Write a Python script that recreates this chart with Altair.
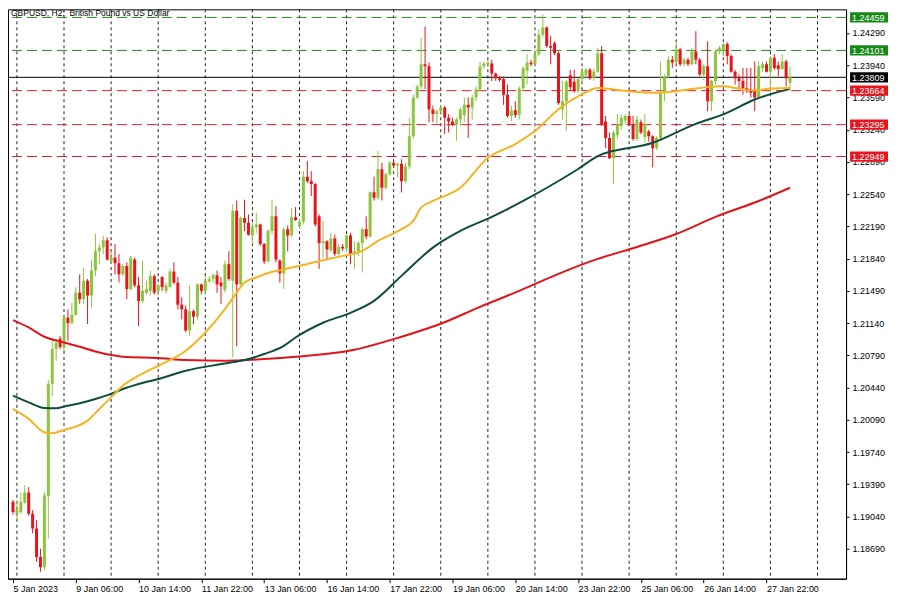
import altair as alt
import pandas as pd

# ---------------- data (GBPUSD H2 candles) ----------------
opens = [
1.1920, 1.1907, 1.1909, 1.1919, 1.1930, 1.1907, 1.1891, 1.1860, 1.1849, 1.1926,
1.2048, 1.2086, 1.2097, 1.2088, 1.2120, 1.2114, 1.2123, 1.2147, 1.2140, 1.2160,
1.2144, 1.2171, 1.2192, 1.2196, 1.2204, 1.2181, 1.2185, 1.2179, 1.2167, 1.2176,
1.2151, 1.2183, 1.2155, 1.2138, 1.2147, 1.2149, 1.2165, 1.2149, 1.2164, 1.2149,
1.2153, 1.2170, 1.2158, 1.2134, 1.2129, 1.2106, 1.2127, 1.2121, 1.2156, 1.2149,
1.2159, 1.2162, 1.2166, 1.2158, 1.2150, 1.2178, 1.2160, 1.2236, 1.2156, 1.2228,
1.2223, 1.2209, 1.2218, 1.2221, 1.2200, 1.2181, 1.2214, 1.2230, 1.2182, 1.2168,
1.2216, 1.2209, 1.2229, 1.2219, 1.2224, 1.2273, 1.2268, 1.2265, 1.2230, 1.2201,
1.2203, 1.2193, 1.2206, 1.2189, 1.2197, 1.2195, 1.2209, 1.2189, 1.2192, 1.2201,
1.2216, 1.2208, 1.2256, 1.2250, 1.2281, 1.2261, 1.2276, 1.2288, 1.2285, 1.2287,
1.2268, 1.2284, 1.2317, 1.2359, 1.2371, 1.2395, 1.2393, 1.2346, 1.2341, 1.2344,
1.2348, 1.2337, 1.2333, 1.2330, 1.2335, 1.2340, 1.2351, 1.2348, 1.2359, 1.2368,
1.2393, 1.2395, 1.2396, 1.2385, 1.2380, 1.2379, 1.2362, 1.2339, 1.2345, 1.2340,
1.2369, 1.2388, 1.2397, 1.2395, 1.2406, 1.2427, 1.2435, 1.2415, 1.2418, 1.2407,
1.2346, 1.2355, 1.2383, 1.2376, 1.2366, 1.2379, 1.2383, 1.2389, 1.2380, 1.2387,
1.2407, 1.2333, 1.2315, 1.2293, 1.2318, 1.2328, 1.2334, 1.2339, 1.2330, 1.2314,
1.2332, 1.2316, 1.2322, 1.2317, 1.2304, 1.2315, 1.2364, 1.2382, 1.2400, 1.2397,
1.2411, 1.2395, 1.2400, 1.2395, 1.2409, 1.2400, 1.2384, 1.2393, 1.2355, 1.2377,
1.2409, 1.2410, 1.2417, 1.2404, 1.2387, 1.2380, 1.2377, 1.2369, 1.2368, 1.2366,
1.2359, 1.2391, 1.2395, 1.2387, 1.2402, 1.2394, 1.2390, 1.2398, 1.2375]

highs = [
1.1922, 1.1921, 1.1930, 1.1938, 1.1936, 1.1911, 1.1900, 1.1869, 1.1930, 1.2052,
1.2095, 1.2097, 1.2100, 1.2122, 1.2129, 1.2136, 1.2153, 1.2167, 1.2174, 1.2162,
1.2183, 1.2211, 1.2200, 1.2209, 1.2207, 1.2192, 1.2200, 1.2189, 1.2178, 1.2180,
1.2187, 1.2185, 1.2164, 1.2182, 1.2160, 1.2171, 1.2167, 1.2157, 1.2165, 1.2158,
1.2173, 1.2180, 1.2164, 1.2142, 1.2133, 1.2155, 1.2129, 1.2157, 1.2157, 1.2165,
1.2165, 1.2168, 1.2171, 1.2164, 1.2182, 1.2192, 1.2243, 1.2247, 1.2230, 1.2248,
1.2232, 1.2223, 1.2234, 1.2222, 1.2201, 1.2216, 1.2248, 1.2241, 1.2183, 1.2218,
1.2220, 1.2239, 1.2240, 1.2227, 1.2279, 1.2290, 1.2279, 1.2266, 1.2232, 1.2225,
1.2204, 1.2212, 1.2210, 1.2200, 1.2200, 1.2210, 1.2212, 1.2203, 1.2203, 1.2218,
1.2230, 1.2257, 1.2273, 1.2301, 1.2288, 1.2277, 1.2290, 1.2290, 1.2288, 1.2292,
1.2288, 1.2337, 1.2362, 1.2373, 1.2424, 1.2436, 1.2397, 1.2350, 1.2346, 1.2350,
1.2350, 1.2341, 1.2337, 1.2337, 1.2348, 1.2359, 1.2359, 1.2362, 1.2371, 1.2398,
1.2398, 1.2399, 1.2400, 1.2386, 1.2382, 1.2382, 1.2373, 1.2350, 1.2355, 1.2371,
1.2393, 1.2406, 1.2400, 1.2411, 1.2433, 1.2449, 1.2436, 1.2426, 1.2420, 1.2409,
1.2377, 1.2378, 1.2389, 1.2389, 1.2380, 1.2391, 1.2391, 1.2391, 1.2390, 1.2413,
1.2415, 1.2339, 1.2321, 1.2323, 1.2341, 1.2341, 1.2341, 1.2341, 1.2339, 1.2339,
1.2335, 1.2341, 1.2324, 1.2318, 1.2317, 1.2398, 1.2384, 1.2404, 1.2404, 1.2420,
1.2413, 1.2402, 1.2402, 1.2413, 1.2431, 1.2402, 1.2395, 1.2420, 1.2378, 1.2411,
1.2415, 1.2418, 1.2419, 1.2406, 1.2389, 1.2384, 1.2391, 1.2391, 1.2391, 1.2398,
1.2398, 1.2398, 1.2398, 1.2404, 1.2406, 1.2398, 1.2406, 1.2400, 1.2393]

lows = [
1.1906, 1.1900, 1.1907, 1.1918, 1.1905, 1.1886, 1.1855, 1.1844, 1.1846, 1.1880,
1.2035, 1.2073, 1.2086, 1.2084, 1.2095, 1.2113, 1.2122, 1.2135, 1.2135, 1.2113,
1.2131, 1.2165, 1.2178, 1.2189, 1.2182, 1.2178, 1.2167, 1.2158, 1.2165, 1.2140,
1.2149, 1.2153, 1.2111, 1.2136, 1.2145, 1.2144, 1.2145, 1.2144, 1.2149, 1.2146,
1.2153, 1.2156, 1.2129, 1.2118, 1.2104, 1.2100, 1.2113, 1.2118, 1.2145, 1.2145,
1.2158, 1.2158, 1.2147, 1.2135, 1.2147, 1.2160, 1.2077, 1.2089, 1.2155, 1.2214,
1.2209, 1.2200, 1.2212, 1.2198, 1.2178, 1.2180, 1.2210, 1.2180, 1.2158, 1.2151,
1.2192, 1.2207, 1.2225, 1.2216, 1.2221, 1.2266, 1.2252, 1.2219, 1.2173, 1.2185,
1.2182, 1.2191, 1.2187, 1.2187, 1.2192, 1.2191, 1.2178, 1.2173, 1.2187, 1.2169,
1.2205, 1.2207, 1.2247, 1.2248, 1.2247, 1.2259, 1.2274, 1.2283, 1.2272, 1.2256,
1.2266, 1.2281, 1.2314, 1.2357, 1.2368, 1.2368, 1.2332, 1.2332, 1.2330, 1.2342,
1.2319, 1.2321, 1.2328, 1.2312, 1.2328, 1.2332, 1.2315, 1.2335, 1.2355, 1.2366,
1.2390, 1.2392, 1.2377, 1.2377, 1.2376, 1.2351, 1.2337, 1.2333, 1.2337, 1.2335,
1.2366, 1.2373, 1.2393, 1.2394, 1.2404, 1.2424, 1.2413, 1.2395, 1.2405, 1.2351,
1.2335, 1.2323, 1.2366, 1.2364, 1.2364, 1.2375, 1.2380, 1.2378, 1.2377, 1.2386,
1.2328, 1.2304, 1.2292, 1.2265, 1.2314, 1.2324, 1.2330, 1.2328, 1.2312, 1.2312,
1.2319, 1.2310, 1.2311, 1.2283, 1.2302, 1.2312, 1.2355, 1.2380, 1.2391, 1.2395,
1.2393, 1.2393, 1.2393, 1.2394, 1.2395, 1.2382, 1.2378, 1.2344, 1.2344, 1.2373,
1.2406, 1.2404, 1.2395, 1.2386, 1.2373, 1.2368, 1.2362, 1.2364, 1.2359, 1.2344,
1.2357, 1.2387, 1.2386, 1.2362, 1.2389, 1.2382, 1.2389, 1.2371, 1.2368]

closes = [
1.1909, 1.1911, 1.1920, 1.1930, 1.1907, 1.1891, 1.1860, 1.1849, 1.1927, 1.2048,
1.2086, 1.2093, 1.2088, 1.2120, 1.2114, 1.2123, 1.2147, 1.2140, 1.2160, 1.2144,
1.2171, 1.2192, 1.2196, 1.2204, 1.2183, 1.2185, 1.2179, 1.2167, 1.2176, 1.2151,
1.2185, 1.2155, 1.2138, 1.2149, 1.2151, 1.2165, 1.2147, 1.2155, 1.2153, 1.2155,
1.2170, 1.2158, 1.2134, 1.2129, 1.2106, 1.2127, 1.2121, 1.2156, 1.2149, 1.2160,
1.2162, 1.2166, 1.2156, 1.2154, 1.2178, 1.2162, 1.2236, 1.2156, 1.2228, 1.2223,
1.2210, 1.2218, 1.2221, 1.2200, 1.2181, 1.2214, 1.2230, 1.2183, 1.2168, 1.2216,
1.2209, 1.2229, 1.2226, 1.2224, 1.2273, 1.2268, 1.2265, 1.2221, 1.2201, 1.2203,
1.2194, 1.2206, 1.2189, 1.2197, 1.2195, 1.2209, 1.2189, 1.2192, 1.2201, 1.2216,
1.2208, 1.2256, 1.2250, 1.2281, 1.2261, 1.2276, 1.2288, 1.2285, 1.2287, 1.2268,
1.2284, 1.2317, 1.2359, 1.2371, 1.2395, 1.2393, 1.2346, 1.2341, 1.2344, 1.2348,
1.2337, 1.2333, 1.2330, 1.2335, 1.2346, 1.2351, 1.2348, 1.2359, 1.2368, 1.2393,
1.2396, 1.2397, 1.2385, 1.2380, 1.2378, 1.2362, 1.2339, 1.2345, 1.2340, 1.2369,
1.2391, 1.2397, 1.2395, 1.2406, 1.2427, 1.2435, 1.2415, 1.2413, 1.2407, 1.2353,
1.2355, 1.2376, 1.2370, 1.2366, 1.2379, 1.2387, 1.2389, 1.2380, 1.2387, 1.2407,
1.2330, 1.2315, 1.2293, 1.2321, 1.2330, 1.2337, 1.2339, 1.2330, 1.2314, 1.2335,
1.2321, 1.2330, 1.2317, 1.2304, 1.2315, 1.2364, 1.2382, 1.2400, 1.2397, 1.2411,
1.2395, 1.2400, 1.2395, 1.2409, 1.2400, 1.2384, 1.2393, 1.2355, 1.2377, 1.2409,
1.2413, 1.2417, 1.2404, 1.2387, 1.2380, 1.2377, 1.2369, 1.2366, 1.2364, 1.2359,
1.2393, 1.2395, 1.2387, 1.2402, 1.2391, 1.2390, 1.2398, 1.2380, 1.23809]

# moving averages (bar index, price)
ma_fast_idx = [0, 4, 8, 10, 13, 16, 19, 22, 25, 28, 32, 37, 44, 49, 54, 57, 59, 62, 64, 68, 72,
               79, 84, 89, 93, 99, 102, 104, 107, 114, 121, 128, 133, 139, 145, 149, 153, 157,
               164, 174, 181, 184, 189, 193, 198]
ma_fast = [1.20208, 1.20100, 1.19954, 1.19944, 1.19980, 1.20016, 1.20081, 1.20208, 1.20334,
           1.20461, 1.20569, 1.20677, 1.20840, 1.21038, 1.21292, 1.21472, 1.21580, 1.21635,
           1.21671, 1.21715, 1.21751, 1.21823, 1.21870, 1.21924, 1.22032, 1.22160, 1.22250,
           1.22393, 1.22466, 1.22610, 1.22935, 1.23084, 1.23225, 1.23463, 1.23626, 1.23694,
           1.23677, 1.23658, 1.23640, 1.23688, 1.23713, 1.23694, 1.23666, 1.23688, 1.23694]

ma_mid_idx = [0, 4, 8, 11, 13, 17, 21, 25, 28, 32, 37, 44, 54, 59, 64, 69, 72, 79, 86, 92, 99,
              107, 114, 122, 130, 139, 144, 149, 163, 174, 181, 189, 198]
ma_mid = [1.20352, 1.20280, 1.20219, 1.20215, 1.20233, 1.20269, 1.20316, 1.20371, 1.20425,
          1.20479, 1.20533, 1.20623, 1.20702, 1.20739, 1.20804, 1.20894, 1.20984, 1.21144,
          1.21252, 1.21382, 1.21653, 1.21960, 1.22141, 1.22293, 1.22466, 1.22683, 1.22813,
          1.22954, 1.23098, 1.23304, 1.23406, 1.23568, 1.23683]

ma_slow_idx = [0, 4, 8, 13, 17, 21, 25, 28, 37, 44, 54, 64, 72, 87, 99, 109, 119, 129, 139,
               149, 159, 169, 179, 190, 198]
ma_slow = [1.21173, 1.21093, 1.20992, 1.20930, 1.20883, 1.20832, 1.20793, 1.20775, 1.20761,
           1.20739, 1.20732, 1.20750, 1.20775, 1.20851, 1.20992, 1.21133, 1.21317, 1.21490,
           1.21675, 1.21837, 1.21967, 1.22108, 1.22293, 1.22466, 1.22610]

levels_green = [1.24459, 1.24101]
levels_red = [1.23664, 1.23295, 1.22949]
bid_level = [1.23809]

y_ticks = [1.18690, 1.19040, 1.19390, 1.19740, 1.20090, 1.20440, 1.20790, 1.21140, 1.21490,
           1.21840, 1.22190, 1.22540, 1.22890, 1.23240, 1.23590, 1.23940, 1.24290]
tick_idx = [0, 16, 32, 48, 64, 80, 96, 112, 128, 144, 160, 176, 192]
tick_labels = ["5 Jan 2023", "9 Jan 06:00", "10 Jan 14:00", "11 Jan 22:00", "13 Jan 06:00",
               "16 Jan 14:00", "17 Jan 22:00", "19 Jan 06:00", "20 Jan 14:00", "23 Jan 22:00",
               "25 Jan 06:00", "26 Jan 14:00", "27 Jan 22:00"]
day_grid_idx = [1, 13, 25, 37, 49, 61, 73, 85, 97, 109, 121, 133, 145, 157, 169, 181, 193, 205]
chart_title = "GBPUSD, H2:\u00a0 British Pound vs US Dollar"

# ---------------- styling ----------------
W, H = 839, 570
FONT = "Liberation Sans"
UP, DOWN = "#8CC63F", "#E8141C"
C_FAST, C_MID, C_SLOW = "#F5B324", "#0E4D3C", "#E0141B"
LINE_G, LINE_R = "#1F8A1F", "#D9202A"
BOX_G, BOX_R = "#168A16", "#E8141C"

n = len(opens)
assert len(highs) == n and len(lows) == n and len(closes) == n
candles = pd.DataFrame({"idx": list(range(n)), "open": opens, "high": highs,
                        "low": lows, "close": closes})
candles["dir"] = ["up" if c >= o else "down" for o, c in zip(opens, closes)]

xscale = alt.Scale(domain=[0, 211], nice=False, zero=False)
yscale = alt.Scale(domain=[1.18365, 1.24547], nice=False, zero=False)

labels_js = "[" + ",".join("'" + s + "'" for s in tick_labels) + "]"
idx_js = "[" + ",".join(str(v) for v in tick_idx) + "]"
x_axis = alt.Axis(values=tick_idx, labelExpr=f"{labels_js}[indexof({idx_js}, datum.value)]",
                  labelAlign="left", labelFlush=False, labelOverlap=False, labelBound=False,
                  labelFont=FONT, labelFontSize=9, labelColor="black", tickColor="black",
                  tickSize=4, domainColor="black", grid=False, labelPadding=2, title=None)
y_axis = alt.Axis(orient="right", values=y_ticks, format=".5f", labelFont=FONT,
                  labelFontSize=9, labelColor="black", tickColor="black", tickSize=3,
                  domainColor="black", grid=False, labelPadding=3, labelFlush=False,
                  labelOverlap=False, title=None)


def X(field):
    return alt.X(f"{field}:Q", scale=xscale, axis=x_axis)


def Y(field):
    return alt.Y(f"{field}:Q", scale=yscale, axis=y_axis)


grid = alt.Chart(pd.DataFrame({"idx": day_grid_idx})).mark_rule(
    color="#222222", strokeDash=[3, 3], strokeWidth=1, clip=True).encode(x=X("idx"))


def level_rules(levels, color, dash):
    kw = dict(color=color, strokeWidth=1, clip=True)
    if dash:
        kw["strokeDash"] = [10, 5]
    return alt.Chart(pd.DataFrame({"level": levels})).mark_rule(**kw).encode(y=Y("level"))


lines_g = level_rules(levels_green, LINE_G, True)
lines_r = level_rules(levels_red, LINE_R, True)
line_bid = level_rules(bid_level, "black", False)

dir_color = alt.Color("dir:N", scale=alt.Scale(domain=["up", "down"], range=[UP, DOWN]),
                      legend=None)
wicks = alt.Chart(candles).mark_rule(strokeWidth=1, clip=True).encode(
    x=X("idx"), y=Y("low"), y2="high:Q", color=dir_color)
bodies = alt.Chart(candles).mark_bar(width=3, clip=True).encode(
    x=X("idx"), y=Y("open"), y2="close:Q", color=dir_color)


def ma_line(idx, vals, color):
    return alt.Chart(pd.DataFrame({"idx": idx, "ma": vals})).mark_line(
        color=color, strokeWidth=2, interpolate="monotone", clip=True).encode(
        x=X("idx"), y=Y("ma"))


ma_s = ma_line(ma_slow_idx, ma_slow, C_SLOW)
ma_m = ma_line(ma_mid_idx, ma_mid, C_MID)
ma_f = ma_line(ma_fast_idx, ma_fast, C_FAST)

BOX_PATH = "M-1,-0.27L1,-0.27L1,0.27L-1,0.27Z"


def price_tags(levels, fill):
    d = pd.DataFrame({"level": levels, "txt": [f"{v:.5f}" for v in levels]})
    box = alt.Chart(d).mark_point(shape=BOX_PATH, size=38 * 38, filled=True, opacity=1,
                                  color=fill, strokeWidth=0).encode(
        x=alt.value(W + 23), y=Y("level"))
    txt = alt.Chart(d).mark_text(align="left", baseline="middle", font=FONT, fontSize=9,
                                 color="white", dy=0.5).encode(
        x=alt.value(W + 6), y=Y("level"), text="txt:N")
    return [box, txt]


tags = price_tags(levels_green, BOX_G) + price_tags(levels_red, BOX_R) + \
    price_tags(bid_level, "black")

title = alt.Chart(pd.DataFrame({"t": [chart_title]})).mark_text(
    align="left", baseline="alphabetic", font=FONT, fontSize=8.5, color="black").encode(
    x=alt.value(3), y=alt.value(6.5), text="t:N")

chart = alt.layer(grid, lines_g, lines_r, line_bid, wicks, bodies, ma_s, ma_m, ma_f,
                  *tags, title).properties(
    width=W, height=H, padding={"left": 0, "top": 0, "right": 4, "bottom": 4},
    background="white"
).configure_view(stroke="black", strokeWidth=1)

chart.save("out.html", embed_options={"renderer": "svg", "actions": False})
